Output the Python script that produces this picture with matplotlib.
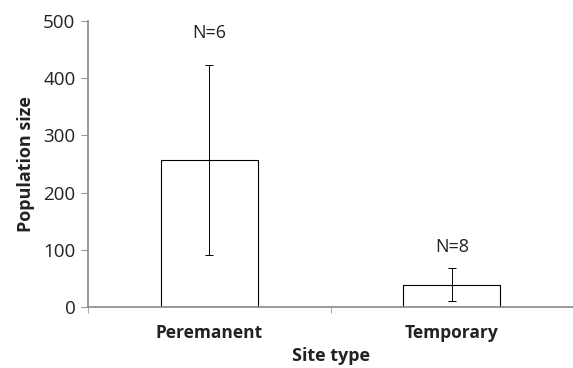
import matplotlib.pyplot as plt
import numpy as np

plt.rcParams['font.family'] = ['Open Sans', 'DejaVu Sans']

sites = ['Peremanent', 'Temporary']
means = [257, 39]
errs = [166, 29]
n_labels = ['N=6', 'N=8']
n_pos = [479, 105]

fig = plt.figure(figsize=(5.73, 3.68), dpi=100)
ax = fig.add_axes([88/573, 1 - 307/368, 1 - 88/573, (307 - 21)/368])

x = np.arange(len(sites))
ax.bar(x, means, width=0.4, color='white', edgecolor='black', linewidth=0.8, zorder=2)
ax.errorbar(x, means, yerr=errs, fmt='none', ecolor='black', elinewidth=0.7,
            capsize=3, capthick=0.7, zorder=3)
for xi, lab, yp in zip(x, n_labels, n_pos):
    ax.text(xi, yp, lab, ha='center', va='center', fontsize=13, color='#222222')

ax.set_xlim(-0.5, 1.5)
ax.set_ylim(0, 500)
ax.set_yticks([0, 100, 200, 300, 400, 500])
ax.set_xticks(x)
ax.set_xticklabels(sites, fontweight='bold', fontsize=12.5, color='#222222')
ax.set_xticks([-0.5, 0.5], minor=True)
ax.tick_params(axis='x', which='major', length=0, pad=12)
ax.tick_params(axis='x', which='minor', length=4, color='#999999')
ax.tick_params(axis='y', length=5, color='#999999', labelsize=13.5,
               labelcolor='#222222', pad=4)
for s in ['top', 'right']:
    ax.spines[s].set_visible(False)
for s in ['left', 'bottom']:
    ax.spines[s].set_color('#888888')
    ax.spines[s].set_linewidth(1.2)

ax.set_xlabel('Site type', fontweight='bold', fontsize=13, labelpad=4, color='#222222')
ax.set_ylabel('Population size', fontweight='bold', fontsize=13, labelpad=6, color='#222222')

fig.savefig('out.png', dpi=100)
